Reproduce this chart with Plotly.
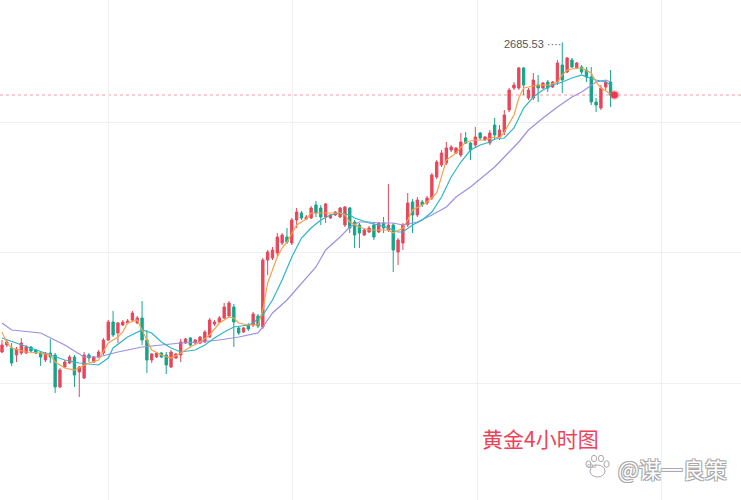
import plotly.graph_objects as go

# ---- data (gold, 4h candles) ----
opens = [2530.7, 2534.2, 2532.7, 2529.2, 2530.2, 2530.2, 2533.2, 2531.7, 2530.2, 2526.7,
         2530.2, 2529.2, 2513.2, 2523.2, 2525.2, 2528.2, 2520.7, 2517.7, 2529.2, 2525.7,
         2528.2, 2530.2, 2536.7, 2545.7, 2540.2, 2544.2, 2545.2, 2546.7, 2545.2, 2547.7,
         2536.7, 2526.7, 2528.2, 2530.2, 2529.2, 2523.2, 2527.7, 2529.2, 2535.2, 2537.7,
         2535.2, 2535.2, 2535.7, 2538.2, 2544.7, 2545.7, 2547.7, 2548.7, 2553.2, 2542.7,
         2540.7, 2544.2, 2544.2, 2548.7, 2543.2, 2576.7, 2577.7, 2580.2, 2585.2, 2588.2,
         2585.2, 2596.7, 2600.2, 2597.2, 2597.7, 2604.2, 2602.7, 2598.2, 2597.7, 2599.2,
         2598.2, 2594.2, 2602.7, 2595.7, 2594.2, 2589.2, 2590.7, 2594.2, 2590.7, 2595.2,
         2591.7, 2594.2, 2580.7, 2585.2, 2594.2, 2605.7, 2599.2, 2605.7, 2605.2, 2607.7,
         2618.2, 2624.2, 2625.2, 2631.7, 2630.2, 2629.2, 2637.7, 2635.2, 2634.2, 2640.2,
         2636.7, 2635.2, 2644.2, 2638.2, 2640.7, 2651.7, 2662.7, 2662.7, 2672.7, 2657.7,
         2657.7, 2664.2, 2662.7, 2665.7, 2663.2, 2665.7, 2674.2, 2670.7, 2676.7, 2672.7,
         2673.2, 2671.7, 2668.2, 2655.7, 2652.7, 2663.2, 2665.7]
highs = [2536.7, 2536.7, 2535.2, 2533.2, 2537.7, 2534.2, 2533.7, 2532.2, 2530.7, 2530.7,
         2537.2, 2530.2, 2522.7, 2526.7, 2529.2, 2529.2, 2523.7, 2530.7, 2530.2, 2528.7,
         2531.7, 2537.7, 2546.7, 2551.2, 2545.7, 2546.7, 2547.2, 2551.2, 2548.7, 2556.2,
         2541.7, 2530.2, 2530.7, 2530.7, 2530.7, 2531.7, 2530.2, 2537.2, 2537.7, 2538.2,
         2537.2, 2538.7, 2541.7, 2547.7, 2546.7, 2548.7, 2555.2, 2556.2, 2554.7, 2543.7,
         2543.2, 2545.2, 2550.7, 2549.7, 2577.7, 2581.7, 2583.2, 2590.2, 2590.2, 2592.7,
         2597.7, 2602.7, 2601.2, 2599.2, 2603.7, 2606.2, 2604.2, 2605.2, 2599.7, 2601.2,
         2603.2, 2603.7, 2603.2, 2596.7, 2595.2, 2592.2, 2593.7, 2595.7, 2595.7, 2598.2,
         2614.7, 2595.2, 2587.7, 2595.2, 2610.2, 2607.2, 2608.2, 2606.7, 2608.7, 2620.2,
         2626.7, 2631.7, 2635.7, 2634.2, 2633.2, 2640.2, 2640.7, 2635.7, 2643.2, 2640.7,
         2638.7, 2641.7, 2647.7, 2644.2, 2651.7, 2662.7, 2665.7, 2673.2, 2673.2, 2662.7,
         2670.2, 2669.2, 2665.7, 2666.7, 2666.2, 2676.7, 2685.53, 2678.2, 2677.7, 2675.7,
         2674.2, 2673.2, 2673.2, 2657.7, 2664.2, 2666.7, 2671.7]
lows = [2530.2, 2533.2, 2523.7, 2525.7, 2529.2, 2529.7, 2530.7, 2529.7, 2523.7, 2525.7,
        2525.2, 2510.2, 2512.7, 2522.7, 2524.7, 2513.2, 2508.2, 2517.2, 2525.7, 2525.2,
        2527.7, 2529.2, 2536.2, 2538.2, 2535.2, 2543.7, 2544.7, 2545.7, 2544.7, 2534.2,
        2520.2, 2525.2, 2527.7, 2527.7, 2519.7, 2522.7, 2527.2, 2525.7, 2534.7, 2533.2,
        2534.7, 2534.7, 2535.2, 2537.7, 2543.7, 2545.2, 2547.2, 2547.7, 2533.2, 2539.2,
        2540.2, 2541.2, 2543.2, 2542.7, 2542.2, 2569.2, 2576.7, 2578.2, 2584.2, 2584.7,
        2584.2, 2592.7, 2596.7, 2596.7, 2597.2, 2598.2, 2594.2, 2595.2, 2597.2, 2598.7,
        2597.7, 2593.2, 2590.2, 2582.7, 2582.7, 2588.7, 2590.2, 2586.7, 2590.2, 2590.2,
        2590.7, 2570.7, 2574.2, 2581.7, 2593.2, 2590.2, 2598.2, 2603.2, 2604.2, 2606.7,
        2617.2, 2623.2, 2624.2, 2630.7, 2629.7, 2628.2, 2634.7, 2626.7, 2633.2, 2636.7,
        2636.2, 2634.2, 2636.7, 2636.7, 2639.2, 2650.7, 2661.7, 2661.7, 2659.2, 2656.7,
        2656.7, 2655.7, 2662.2, 2660.7, 2662.7, 2664.2, 2660.2, 2670.2, 2672.7, 2672.2,
        2669.7, 2665.7, 2654.2, 2650.7, 2651.7, 2661.7, 2653.2]
closes = [2534.2, 2535.7, 2525.2, 2532.2, 2535.2, 2533.2, 2531.2, 2530.2, 2528.2, 2530.2,
          2528.2, 2513.2, 2521.7, 2525.7, 2528.2, 2519.2, 2523.2, 2529.2, 2527.7, 2528.2,
          2530.7, 2536.7, 2545.7, 2539.2, 2545.2, 2545.7, 2546.2, 2550.2, 2547.7, 2536.7,
          2526.7, 2529.7, 2530.2, 2528.2, 2524.2, 2530.7, 2529.7, 2535.7, 2537.2, 2534.2,
          2536.7, 2538.2, 2540.7, 2546.7, 2545.7, 2547.7, 2553.2, 2555.2, 2545.7, 2540.2,
          2542.7, 2542.2, 2549.7, 2543.7, 2576.7, 2580.7, 2581.7, 2588.2, 2589.2, 2585.7,
          2596.7, 2600.7, 2597.7, 2598.2, 2602.7, 2600.2, 2598.2, 2604.7, 2599.2, 2600.7,
          2602.7, 2603.2, 2592.7, 2589.2, 2590.2, 2591.7, 2592.7, 2588.2, 2595.2, 2592.7,
          2594.2, 2581.7, 2586.7, 2594.2, 2605.2, 2599.2, 2606.7, 2604.2, 2607.7, 2619.2,
          2625.7, 2630.2, 2632.7, 2633.2, 2632.7, 2635.7, 2635.2, 2631.7, 2638.2, 2637.7,
          2638.2, 2640.2, 2639.2, 2641.7, 2649.2, 2661.7, 2664.2, 2672.7, 2664.2, 2661.7,
          2666.7, 2662.7, 2665.2, 2662.7, 2665.7, 2675.2, 2666.7, 2677.7, 2673.2, 2675.2,
          2670.7, 2668.2, 2655.7, 2654.2, 2662.7, 2665.7, 2659.2]

# moving averages (candle index, value)
ma_a_idx = [0, 1, 2, 5, 8, 10, 11, 13, 15, 17, 18, 20, 21, 22, 24, 25, 26, 28, 29, 31, 33, 35, 37, 39,
            41, 43, 45, 47, 48, 49, 51, 53, 54, 55, 57, 58, 59, 60, 61, 63, 64, 67, 70, 71, 72, 74,
            76, 78, 80, 81, 83, 84, 85, 87, 88, 90, 91, 92, 94, 95, 96, 98, 100, 102, 103, 104, 106,
            107, 108, 109, 111, 113, 115, 116, 117, 119, 120, 122, 123, 124, 126]
ma_a_val = [2540.7, 2535.2, 2532.7, 2530.7, 2530.2, 2529.2, 2525.7, 2522.7, 2521.7, 2524.2, 2525.2,
            2526.7, 2530.7, 2535.2, 2538.2, 2540.7, 2545.2, 2546.7, 2541.7, 2531.7, 2529.2, 2527.7,
            2530.2, 2533.2, 2535.7, 2539.2, 2545.2, 2548.2, 2547.7, 2545.2, 2544.2, 2544.2, 2551.7,
            2565.2, 2578.2, 2582.7, 2585.7, 2590.2, 2594.2, 2597.2, 2600.2, 2600.2, 2600.2, 2599.2,
            2595.7, 2593.2, 2591.7, 2591.7, 2591.7, 2590.2, 2592.7, 2596.7, 2601.7, 2604.2, 2605.7,
            2610.2, 2618.2, 2626.7, 2630.2, 2632.7, 2635.7, 2636.7, 2636.7, 2638.2, 2637.7, 2640.7,
            2649.2, 2657.7, 2662.7, 2663.2, 2664.2, 2664.2, 2665.7, 2669.2, 2671.7, 2672.7, 2672.7,
            2670.2, 2665.7, 2662.7, 2659.7]
ma_b_idx = [0, 4, 8, 11, 13, 16, 20, 22, 23, 26, 29, 31, 33, 35, 37, 40, 42, 44, 46, 48, 51, 52, 54,
            56, 58, 60, 62, 64, 66, 68, 70, 72, 73, 76, 78, 80, 82, 83, 85, 87, 89, 91, 93, 95, 97,
            99, 101, 102, 104, 106, 108, 110, 112, 114, 116, 118, 120, 121, 123, 125, 126]
ma_b_val = [2537.7, 2534.2, 2530.7, 2528.2, 2526.7, 2525.2, 2524.2, 2527.7, 2532.7, 2538.2, 2541.7,
            2540.2, 2535.7, 2532.7, 2530.7, 2531.7, 2534.2, 2537.7, 2540.7, 2543.2, 2544.2, 2545.2,
            2549.2, 2556.7, 2566.7, 2578.2, 2587.7, 2592.7, 2596.7, 2599.2, 2600.2, 2599.2, 2597.7,
            2595.2, 2594.2, 2592.7, 2590.7, 2590.7, 2594.2, 2596.7, 2600.7, 2608.2, 2618.2, 2625.7,
            2631.7, 2634.2, 2635.7, 2637.2, 2637.7, 2642.7, 2652.7, 2658.2, 2661.7, 2664.2, 2665.7,
            2667.7, 2669.2, 2668.2, 2666.7, 2665.7, 2664.2]
ma_c_idx = [0, 2, 8, 13, 17, 20, 24, 29, 33, 37, 41, 45, 49, 51, 53, 54, 56, 59, 62, 65, 67, 70, 72,
            74, 76, 78, 81, 83, 86, 89, 92, 94, 97, 100, 102, 105, 107, 109, 112, 115, 118, 120, 122,
            123, 125, 126]
ma_c_val = [2545.2, 2541.7, 2540.2, 2534.2, 2528.2, 2528.2, 2530.7, 2533.2, 2534.2, 2535.2, 2535.7,
            2536.7, 2538.2, 2539.2, 2540.2, 2543.2, 2550.2, 2556.7, 2565.2, 2573.2, 2581.7, 2588.2,
            2593.2, 2595.7, 2595.7, 2595.2, 2595.2, 2594.2, 2595.7, 2599.2, 2603.2, 2608.2, 2613.2,
            2619.2, 2623.2, 2630.7, 2635.7, 2641.7, 2647.7, 2653.2, 2658.2, 2660.7, 2664.2, 2665.7,
            2666.7, 2665.7]

max_label = "2685.53"
title_text = "黄金4小时图"
watermark_text = "@谋一良策"

N = len(closes)
xs = list(range(N))

RED = "#e9465a"
GREEN = "#14a58a"

fig = go.Figure()
fig.add_trace(go.Candlestick(
    x=xs, open=opens, high=highs, low=lows, close=closes,
    increasing=dict(line=dict(color=RED, width=1), fillcolor=RED),
    decreasing=dict(line=dict(color=GREEN, width=1), fillcolor=GREEN),
    whiskerwidth=0, hoverinfo="skip", showlegend=False))

for idx, val, col in [(ma_c_idx, ma_c_val, "#9d8fe3"),
                      (ma_b_idx, ma_b_val, "#2db6c8"),
                      (ma_a_idx, ma_a_val, "#f6a24e")]:
    fig.add_trace(go.Scatter(x=idx, y=val, mode="lines",
                             line=dict(color=col, width=1.2), hoverinfo="skip",
                             showlegend=False))

last_close = closes[-1]
# current price dashed line
fig.add_shape(type="line", xref="paper", x0=0, x1=1, y0=last_close, y1=last_close,
              line=dict(color="#f39aa6", width=1, dash="dot"), layer="below")
# current price dot
fig.add_trace(go.Scatter(x=[xs[-1] + 0.8], y=[last_close], mode="markers",
                         marker=dict(size=7, color="#f0384e",
                                     line=dict(width=3, color="rgba(240,56,78,0.3)")),
                         hoverinfo="skip", showlegend=False))

# max label
imax = highs.index(max(highs))
fig.add_annotation(x=imax, y=max(highs), text=max_label + " ····", showarrow=False,
                   xanchor="right", yanchor="middle", xshift=1, yshift=-2,
                   font=dict(family="Liberation Sans, Arial", size=11, color="#555555"))

fig.add_annotation(xref="paper", yref="paper", x=0.729, y=0.124, text=title_text,
                   showarrow=False, xanchor="center", yanchor="middle",
                   font=dict(family="Noto Sans CJK SC", size=21, color="#ee4258"))

fig.add_annotation(xref="paper", yref="paper", x=0.984, y=0.064, text=watermark_text,
                   showarrow=False, xanchor="right", yanchor="middle",
                   font=dict(family="Noto Sans CJK SC", size=22, color="#ffffff",
                             shadow="-1px -1px 0 #a8a8a8, 1px -1px 0 #a8a8a8, -1px 1px 0 #a8a8a8, 1px 1px 0 #a8a8a8"))

# paw logo (watermark)
paw = [(597.5, 471, 7.5, 6.0), (588.5, 464, 2.6, 3.2), (594.0, 458.5, 2.6, 3.2),
       (601.0, 458.5, 2.6, 3.2), (606.5, 464, 2.6, 3.2)]
for cx, cy, rx, ry in paw:
    fig.add_shape(type="circle", xref="paper", yref="paper",
                  x0=(cx - rx) / 741, x1=(cx + rx) / 741,
                  y0=1 - (cy + ry) / 500, y1=1 - (cy - ry) / 500,
                  line=dict(color="#a8a8a8", width=1), fillcolor="white")
fig.add_annotation(xref="paper", yref="paper", x=597.5 / 741, y=1 - 472 / 500, text="du",
                   showarrow=False, font=dict(size=8, color="#a8a8a8", family="Liberation Sans"))

# axis geometry: candle i at pixel 2 + 4.83*i, price p at pixel (2706.7 - p)*2
step = 4.83
x_lo = -2 / step
x_hi = (741 - 2) / step
grid_x = [(px - 2) / step for px in (108, 292.5, 477, 661.5)]
y_top = 2706.7
y_bot = y_top - 250
grid_y = [y_top - py / 2 for py in (122, 252.5, 383)]

fig.update_layout(
    width=741, height=500,
    margin=dict(l=0, r=0, t=0, b=0),
    paper_bgcolor="white", plot_bgcolor="white",
    xaxis=dict(range=[x_lo, x_hi], showticklabels=False, tickvals=grid_x,
               showgrid=True, gridcolor="#f0f0f0", gridwidth=1, zeroline=False,
               showline=False, rangeslider=dict(visible=False), fixedrange=True),
    yaxis=dict(range=[y_bot, y_top], showticklabels=False, tickvals=grid_y,
               showgrid=True, gridcolor="#f0f0f0", gridwidth=1, zeroline=False,
               showline=False, fixedrange=True),
    showlegend=False,
)

fig.write_html("out.html")
